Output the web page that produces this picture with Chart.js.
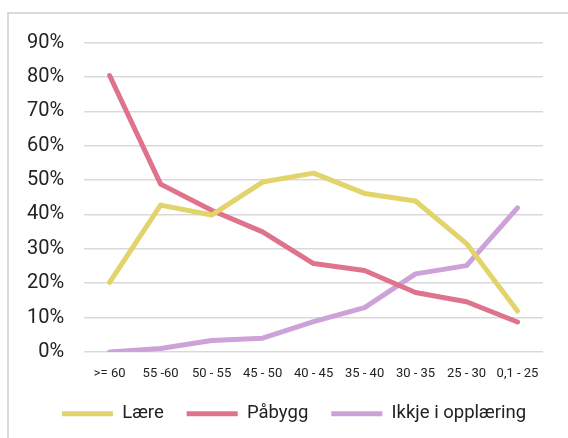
<!DOCTYPE html>
<html>
<head>
<meta charset="utf-8">
<script src="https://cdn.jsdelivr.net/npm/chart.js@4"></script>
<style>
  html, body { margin: 0; padding: 0; background: #fff; overflow: hidden; }
  #frame { position: absolute; left: 7px; top: 12px; width: 600px; height: 460px; border: 2px solid #dadada; }
  #wrap { position: absolute; left: 0; top: 0; width: 568px; height: 438px; }
</style>
</head>
<body>
<div id="frame"></div>
<div id="wrap"><canvas id="chart"></canvas></div>
<script>
const categories = ['>= 60', '55 -60', '50 - 55', '45 - 50', '40 - 45', '35 - 40', '30 - 35', '25 - 30', '0,1 - 25'];
const laere = [20.2, 42.7, 39.8, 49.4, 52.0, 46.1, 43.9, 31.5, 11.9];
const paabygg = [80.4, 48.8, 41.2, 34.9, 25.7, 23.7, 17.3, 14.6, 8.7];
const ikkje = [0.0, 1.0, 3.3, 4.0, 8.8, 12.9, 22.7, 25.1, 41.9];

const ctx = document.getElementById('chart');

function line(label, data, color){
  return {
    label: label,
    data: data,
    borderColor: color,
    backgroundColor: color,
    borderWidth: 5,
    borderCapStyle: 'round',
    borderJoinStyle: 'round',
    pointRadius: 0,
    pointHoverRadius: 0,
    tension: 0,
    fill: false
  };
}

// nudge the legend a bit to the right, as in the original
const legendShift = {
  id: 'legendShift',
  afterLayout(chart){
    chart.legend.left += 19;
    chart.legend.right += 19;
  }
};

new Chart(ctx, {
  type: 'line',
  data: {
    labels: categories,
    datasets: [
      line('Lære', laere, '#e2d36a'),
      line('Påbygg', paabygg, '#e0738c'),
      line('Ikkje i opplæring', ikkje, '#cca2d8')
    ]
  },
  options: {
    responsive: true,
    maintainAspectRatio: false,
    animation: false,
    layout: { padding: { left: 7, right: 25, top: 42.5, bottom: 5 } },
    plugins: {
      legend: {
        position: 'bottom',
        labels: {
          usePointStyle: true,
          pointStyle: 'line',
          pointStyleWidth: 51,
          boxHeight: 18,
          padding: 23,
          color: '#222',
          font: { family: 'Roboto', size: 18.5 }
        }
      },
      tooltip: { enabled: false }
    },
    scales: {
      x: {
        offset: true,
        grid: { display: false },
        border: { display: false },
        ticks: { color: '#222', font: { family: 'Roboto', size: 13 }, padding: 6, maxRotation: 0, autoSkip: false },
        afterFit: s => { s.height -= 6; }
      },
      y: {
        min: 0,
        max: 90,
        border: { display: false },
        grid: { color: '#d9d9d9', lineWidth: 1.5, drawTicks: false },
        ticks: {
          stepSize: 10,
          padding: 20,
          color: '#222',
          font: { family: 'Roboto', size: 20 },
          callback: v => v + '%'
        }
      }
    }
  },
  plugins: [legendShift]
});
</script>
</body>
</html>
